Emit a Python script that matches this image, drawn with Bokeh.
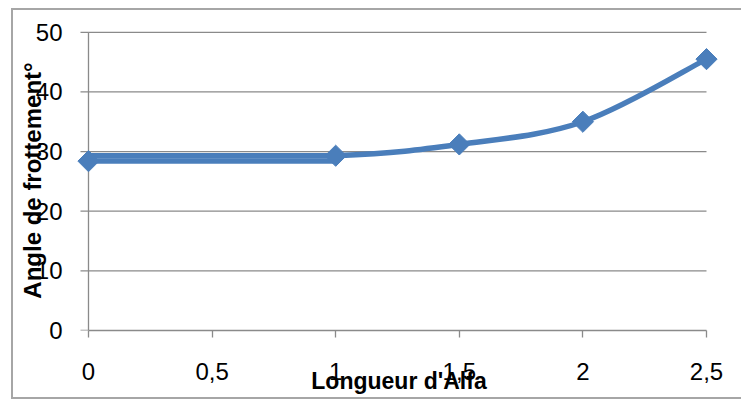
import numpy as np
from bokeh.plotting import figure
from bokeh.models import Range1d, FixedTicker
from bokeh.embed import file_html
from bokeh.resources import INLINE

# ---- data ----
x_vals = [0, 1, 1.5, 2, 2.5]
y_vals = [28.4, 29.3, 31.2, 35.0, 45.5]
x_ticks = [0, 0.5, 1, 1.5, 2, 2.5]
x_tick_labels = ["0", "0,5", "1", "1,5", "2", "2,5"]
y_ticks = [0, 10, 20, 30, 40, 50]
x_title = "Longueur d'Alfa"
y_title = "Angle de frottement°"

BLUE = "#4a7ebb"
GRAY = "#8a8a8a"
FONT = "Liberation Sans"

p = figure(width=741, height=403,
           x_range=Range1d(-0.0566, 2.5688), y_range=Range1d(0, 50.3),
           output_backend="svg", toolbar_location=None,
           min_border_left=74, min_border_right=18,
           min_border_top=30, min_border_bottom=73)

p.outline_line_color = None
p.border_fill_color = None
p.background_fill_color = "white"
p.styles = {"box-shadow": ("inset 11px 8px 0 0 white, inset 0 -4px 0 0 white, "
                           "inset 13px 10px 0 0 #a6a6a6, inset 0 -6px 0 0 #a6a6a6")}
p.xgrid.visible = False
p.ygrid.visible = False

# x axis (at frame bottom, y = 0)
xa = p.xaxis[0]
xa.ticker = FixedTicker(ticks=x_ticks)
xa.major_label_overrides = {float(t): l for t, l in zip(x_ticks, x_tick_labels)}
xa.bounds = (x_ticks[0], x_ticks[-1])
xa.axis_line_color = GRAY
xa.axis_line_width = 1.3
xa.major_tick_line_color = GRAY
xa.major_tick_line_width = 1.3
xa.major_tick_out = 7
xa.major_tick_in = 0
xa.minor_tick_out = 0
xa.minor_tick_in = 0
xa.major_label_standoff = 25
xa.axis_label = x_title
xa.axis_label_standoff = -15

# y axis: labels from the axis, line and ticks drawn at x = 0 below
ya = p.yaxis[0]
ya.ticker = FixedTicker(ticks=y_ticks)
ya.axis_line_color = None
ya.major_tick_line_color = None
ya.major_tick_out = 0
ya.major_tick_in = 0
ya.minor_tick_out = 0
ya.minor_tick_in = 0
ya.major_label_standoff = 12
ya.axis_label = y_title
ya.axis_label_standoff = -13

for ax in (xa, ya):
    ax.major_label_text_font = FONT
    ax.major_label_text_font_size = "24px"
    ax.major_label_text_color = "black"
    ax.axis_label_text_font = FONT
    ax.axis_label_text_font_style = "bold"
    ax.axis_label_text_color = "black"
xa.axis_label_text_font_size = "23px"
ya.axis_label_text_font_size = "24px"

# y-axis line and tick marks at x = x_ticks[0]
x0 = x_ticks[0]
tick_len = 8 / 247.2  # 8 px in data units
p.segment(x0=[x0], x1=[x0], y0=[y_ticks[0]], y1=[y_ticks[-1]],
          line_color=GRAY, line_width=1.3, level="underlay")
p.segment(x0=[x0 - tick_len] * len(y_ticks), x1=[x0] * len(y_ticks),
          y0=y_ticks, y1=y_ticks, line_color=GRAY, line_width=1.3, level="underlay")

# horizontal gridlines spanning the x-axis extent
gy = y_ticks[1:]
p.segment(x0=[x_ticks[0]] * len(gy), x1=[x_ticks[-1]] * len(gy), y0=gy, y1=gy,
          line_color=GRAY, line_width=1.3, level="underlay")

# flat section between first two points (drawn as a band of two lines)
p.segment(x0=[x_vals[0]] * 2, x1=[x_vals[1]] * 2,
          y0=[y_vals[0], y_vals[1]], y1=[y_vals[0], y_vals[1]],
          line_color=BLUE, line_width=5.5)

# smoothed curve for the rest (Catmull-Rom style bezier control points)
P = np.array(list(zip(x_vals, y_vals)), dtype=float)
n = len(P)
segs = {k: [] for k in ("x0", "y0", "x1", "y1", "cx0", "cy0", "cx1", "cy1")}
for i in range(1, n - 1):
    p0, p1, p2 = P[i - 1], P[i], P[i + 1]
    p3 = P[i + 2] if i + 2 < n else P[i + 1]
    c1 = p1 + (p2 - p0) / 6.0
    c2 = p2 - (p3 - p1) / 6.0
    segs["x0"].append(p1[0]); segs["y0"].append(p1[1])
    segs["x1"].append(p2[0]); segs["y1"].append(p2[1])
    segs["cx0"].append(c1[0]); segs["cy0"].append(c1[1])
    segs["cx1"].append(c2[0]); segs["cy1"].append(c2[1])
p.bezier(line_color=BLUE, line_width=5.5, line_cap="round", **segs)

# diamond markers
p.scatter(x_vals, y_vals, marker="square", size=15, angle=np.pi / 4,
          fill_color=BLUE, line_color=BLUE)

open("out.html", "w").write(file_html(p, INLINE))
